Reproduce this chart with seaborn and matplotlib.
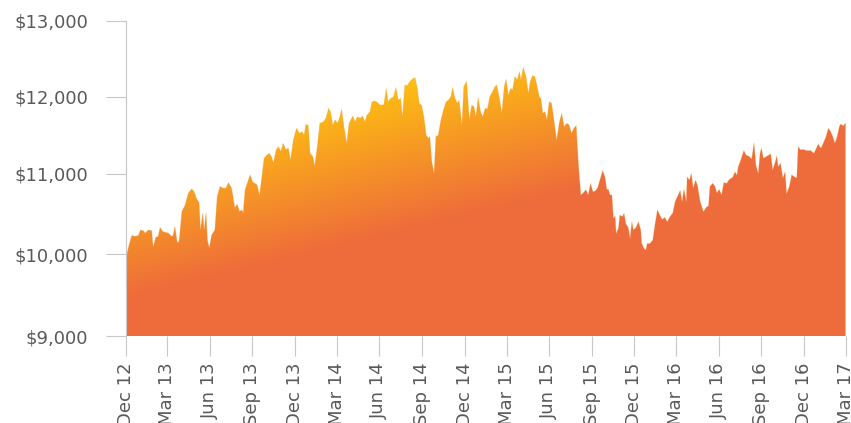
import numpy as np
import pandas as pd
import matplotlib
matplotlib.use("Agg")
import matplotlib.pyplot as plt
import matplotlib.dates as mdates
import matplotlib.ticker as mticker
import seaborn as sns

# -------------------------------
# Data (days after 31 Dec 2012, portfolio value in $)
# -------------------------------
start_date = "2012-12-31"
end_date = "2017-03-31"

days = [
    1, 7, 13, 20, 27, 32, 38, 42, 49, 56, 59, 65, 70, 74, 80, 85, 92, 99, 102, 106,
    111, 115, 121, 128, 135, 142, 147, 153, 158, 161, 166, 169, 173, 176, 180, 185, 192, 197, 203, 210,
    216, 221, 228, 235, 240, 245, 250, 253, 257, 264, 268, 273, 278, 283, 288, 293, 298, 304, 309, 314,
    318, 324, 329, 334, 339, 345, 350, 355, 361, 368, 374, 380, 384, 388, 393, 397, 403, 407, 413, 418,
    426, 431, 437, 441, 446, 451, 456, 460, 465, 470, 476, 481, 489, 494, 499, 505, 510, 515, 520, 526,
    530, 535, 540, 546, 551, 556, 561, 565, 571, 576, 582, 587, 592, 596, 601, 606, 612, 618, 623, 628,
    632, 637, 642, 647, 652, 655, 659, 664, 668, 673, 678, 684, 690, 695, 700, 704, 709, 714, 718, 724,
    728, 734, 740, 745, 750, 754, 759, 764, 769, 774, 779, 784, 790, 795, 799, 804, 810, 815, 819, 824,
    829, 833, 838, 843, 848, 851, 856, 862, 867, 871, 876, 881, 886, 891, 894, 898, 903, 907, 912, 917,
    922, 928, 934, 939, 944, 950, 955, 960, 965, 970, 975, 980, 985, 991, 996, 1001, 1006, 1011, 1016, 1021,
    1027, 1032, 1036, 1039, 1043, 1047, 1050, 1054, 1056, 1061, 1064, 1070, 1073, 1077, 1082, 1086, 1090, 1093, 1099, 1104,
    1109, 1111, 1116, 1120, 1123, 1129, 1135, 1140, 1145, 1150, 1155, 1161, 1166, 1172, 1178, 1183, 1188, 1194, 1198, 1202,
    1207, 1209, 1214, 1218, 1222, 1227, 1231, 1237, 1244, 1250, 1255, 1258, 1264, 1269, 1273, 1278, 1283, 1288, 1294, 1300,
    1307, 1312, 1316, 1319, 1324, 1331, 1336, 1341, 1348, 1353, 1357, 1362, 1366, 1369, 1373, 1379, 1384, 1389, 1393, 1398,
    1402, 1405, 1410, 1415, 1420, 1423, 1429, 1434, 1439, 1445, 1448, 1453, 1459, 1466, 1475, 1482, 1486, 1491, 1497, 1502,
    1508, 1513, 1518, 1522, 1527, 1532, 1537, 1540, 1545, 1550,
]

values = [
    9960, 10110, 10230, 10220, 10230, 10300, 10290, 10260, 10300, 10290, 10090, 10210, 10220, 10330, 10280, 10270, 10260, 10220, 10230, 10340,
    10140, 10160, 10530, 10610, 10760, 10810, 10780, 10685, 10640, 10300, 10510, 10300, 10515, 10170, 10075, 10235, 10300, 10715, 10840, 10820,
    10820, 10890, 10820, 10575, 10620, 10530, 10550, 10510, 10800, 10920, 10985, 10900, 10880, 10860, 10730, 10950, 11200, 11240, 11265, 11220,
    11140, 11310, 11350, 11290, 11395, 11310, 11335, 11180, 11440, 11590, 11525, 11545, 11500, 11640, 11630, 11265, 11220, 11100, 11375, 11655,
    11675, 11720, 11850, 11805, 11630, 11700, 11655, 11720, 11835, 11610, 11395, 11655, 11750, 11675, 11740, 11720, 11750, 11675, 11765, 11805,
    11930, 11945, 11935, 11900, 11890, 11900, 12110, 11935, 11980, 11990, 12120, 11955, 11980, 11740, 12155, 12145, 12200, 12235, 12250, 12110,
    11915, 11890, 11740, 11500, 11460, 11480, 11160, 11005, 11480, 11500, 11675, 11825, 11935, 11955, 12000, 12120, 11980, 11915, 11955, 11630,
    12135, 12200, 11700, 11890, 11870, 11740, 11985, 11805, 11740, 11850, 11840, 12000, 12065, 12130, 12155, 12000, 11785, 12130, 12230, 12020,
    12110, 12090, 12265, 12220, 12330, 12220, 12385, 12265, 12045, 12200, 12275, 12265, 12130, 11985, 11980, 11785, 11805, 11700, 11935, 11915,
    11700, 11435, 11675, 11785, 11610, 11655, 11630, 11525, 11590, 11625, 11110, 10735, 10760, 10800, 10735, 10880, 10775, 10785, 10820, 10920,
    11040, 10960, 10800, 10810, 10735, 10735, 10445, 10470, 10255, 10320, 10485, 10465, 10510, 10375, 10330, 10195, 10400, 10300, 10330, 10400,
    10300, 10135, 10070, 10050, 10130, 10130, 10175, 10375, 10550, 10485, 10430, 10455, 10400, 10465, 10510, 10650, 10715, 10790, 10650, 10805,
    10650, 10960, 10920, 11005, 10820, 10920, 10860, 10650, 10525, 10580, 10600, 10840, 10880, 10840, 10760, 10805, 10735, 10890, 10880, 10930,
    10955, 11025, 10980, 11090, 11170, 11300, 11240, 11230, 11190, 11400, 11110, 11005, 11265, 11330, 11200, 11220, 11240, 11255, 11050, 11135,
    11230, 11090, 11135, 10945, 11025, 10750, 10840, 10985, 10965, 10945, 11350, 11310, 11315, 11300, 11300, 11265, 11315, 11385, 11330, 11395,
    11480, 11590, 11545, 11490, 11395, 11480, 11620, 11645, 11620, 11660,
]

y_ticks = [9000, 10000, 11000, 12000, 13000]

df = pd.DataFrame({
    "date": pd.Timestamp(start_date) + pd.to_timedelta(days, unit="D"),
    "value": values,
})

# -------------------------------
# Style
# -------------------------------
sns.set_theme(style="white")
plt.rcParams["font.family"] = ["DejaVu Sans"]

text_grey = "#58595B"
tick_grey = "#C8C8C8"

W, H = 851, 423
fig = plt.figure(figsize=(W / 100, H / 100), dpi=100)
ax = fig.add_axes([125.7 / W, 87 / H, 720.3 / W, 315.3 / H])

# the original axis spaces its gridlines slightly unevenly
tick_px = [0, 82, 162.3, 239.3, 315.3]
ax.set_yscale("function", functions=(lambda v: np.interp(v, y_ticks, tick_px),
                                     lambda p: np.interp(p, tick_px, y_ticks)))

# -------------------------------
# Area with a yellow -> orange gradient
# -------------------------------
sns.lineplot(data=df, x="date", y="value", ax=ax, color="#F29A2C", linewidth=0.5, alpha=0.35)
poly = ax.fill_between(df["date"], df["value"], y_ticks[0], facecolor="none", edgecolor="none")

bb = ax.get_position()
xs = np.linspace(bb.x0 * W, bb.x1 * W, 721)
ys = np.linspace((1 - bb.y1) * H, (1 - bb.y0) * H, 316)
XX, YY = np.meshgrid(xs, ys)
t = np.clip((0.236 * XX + 0.972 * YY - 160) / 160, 0, 1)[..., None]
yellow = np.array([255, 200, 13]) / 255
orange = np.array([238, 107, 59]) / 255
grad = yellow * (1 - t) + orange * t

im = ax.imshow(grad, extent=[0, 1, 0, 1], transform=ax.transAxes, aspect="auto",
               origin="upper", interpolation="bilinear", zorder=1)
im.set_clip_path(poly.get_paths()[0], transform=ax.transData)

# -------------------------------
# Axes
# -------------------------------
ax.set_xlim(pd.Timestamp(start_date), pd.Timestamp(end_date))
ax.set_ylim(y_ticks[0], y_ticks[-1])
ax.set_xticks(pd.date_range(start_date, end_date, freq="QE"))
ax.xaxis.set_major_formatter(mdates.DateFormatter("%b %y"))
ax.set_yticks(y_ticks)
ax.yaxis.set_major_formatter(mticker.StrMethodFormatter("${x:,.0f}"))
ax.yaxis.set_minor_locator(mticker.NullLocator())
ax.set_xlabel("")
ax.set_ylabel("")

ax.tick_params(axis="both", bottom=True, left=True, length=14.5, width=0.8, color=tick_grey,
               labelcolor=text_grey, labelsize=13, direction="out")
ax.tick_params(axis="x", rotation=90, pad=4.5)
ax.tick_params(axis="y", pad=12.5)

for side in ["top", "right", "bottom"]:
    ax.spines[side].set_visible(False)
ax.spines["left"].set_color(tick_grey)
ax.spines["left"].set_linewidth(0.8)

fig.savefig("out.png", dpi=100)
